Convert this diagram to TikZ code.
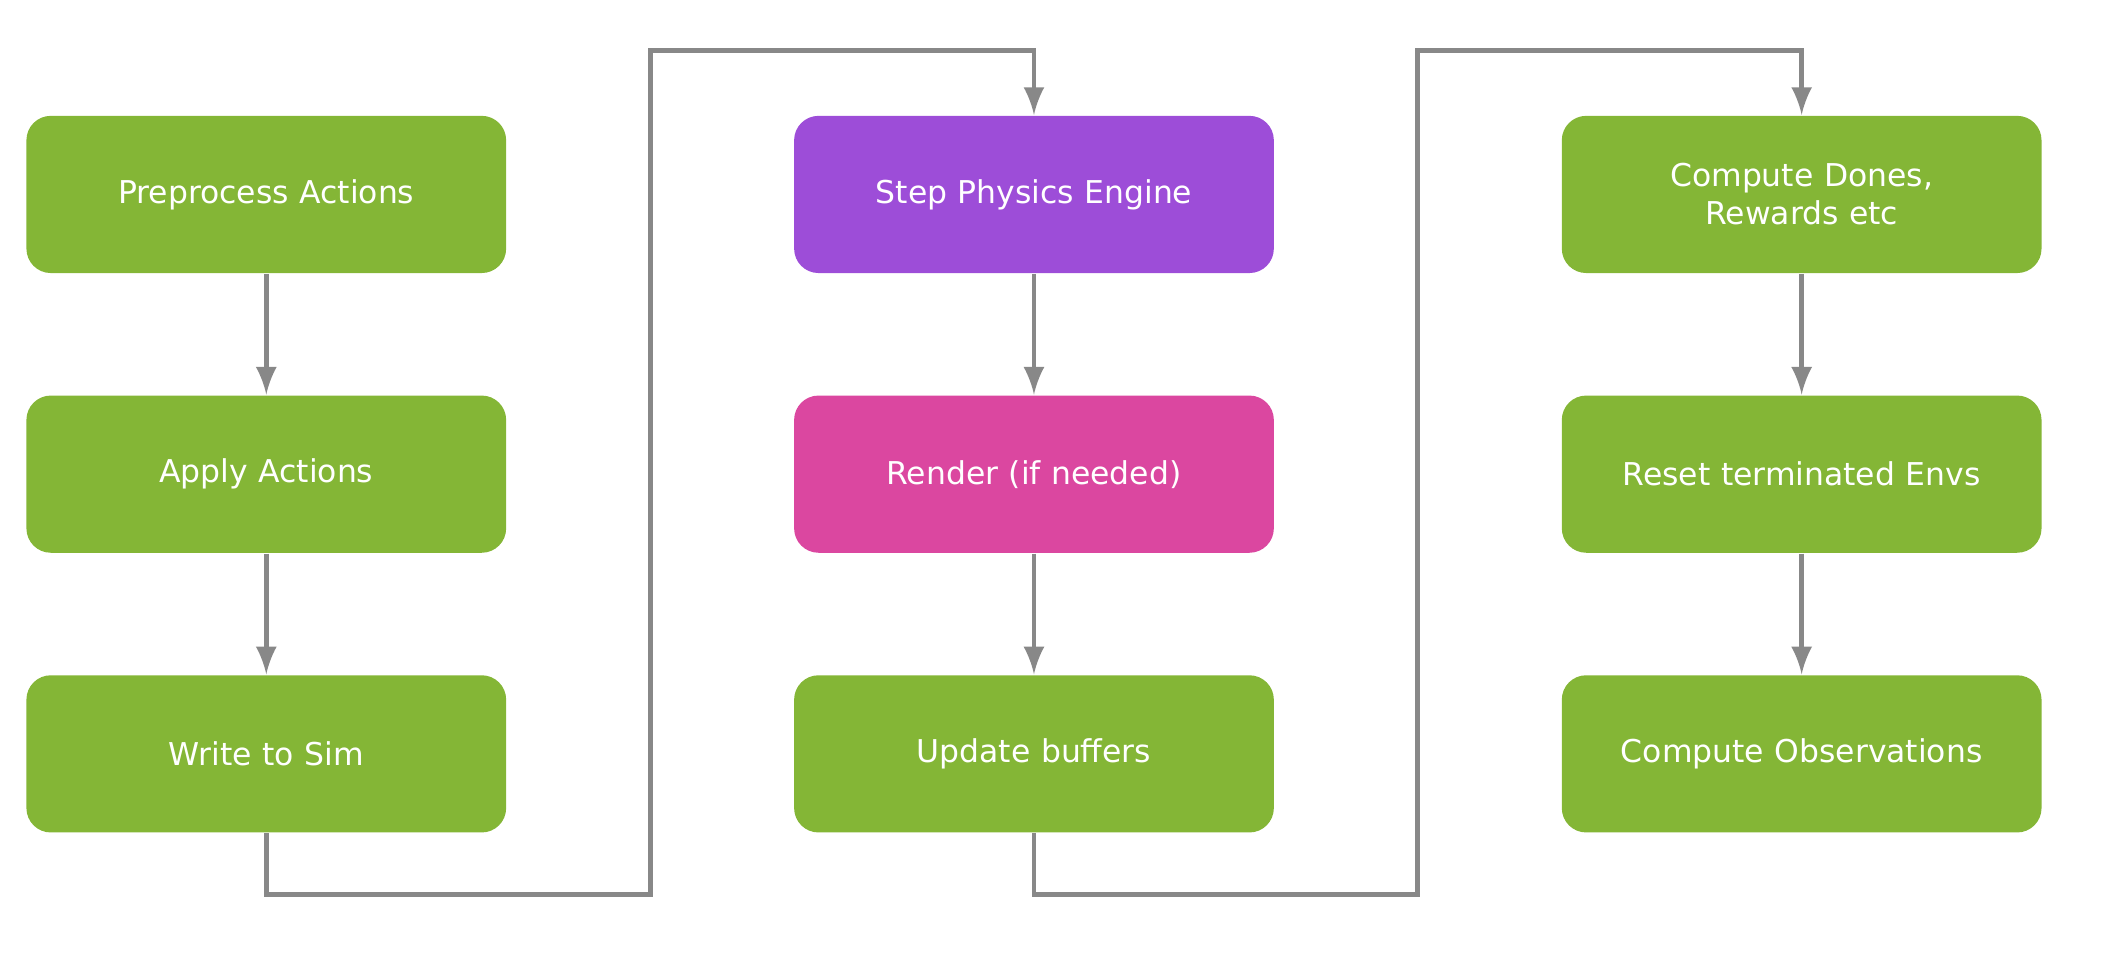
\documentclass[tikz,border=0pt]{standalone}
\usepackage{fontspec}
\setmainfont{DejaVu Sans}
\usetikzlibrary{positioning}
\definecolor{stepgreen}{HTML}{84B636}
\definecolor{steppurple}{HTML}{9D4DD8}
\definecolor{steppink}{HTML}{DB47A0}
\definecolor{flowgray}{HTML}{888888}
\begin{document}
\begin{tikzpicture}[>=latex,
  box/.style={rectangle, rounded corners=0.18cm, minimum width=3.54cm, minimum height=1.16cm,
    text width=3.3cm, align=center, text=white, fill=stepgreen,
    font=\fontsize{6.6}{8}\selectfont},
  flow/.style={draw=flowgray, line width=1pt, ->}]

% Bounding box of the whole page
\useasboundingbox (0,0) rectangle (15.6,-7.055);

% Left column
\node[box] (pre) at (1.965,-1.435) {Preprocess Actions};
\node[box, below=0.89cm of pre] (apply) {Apply Actions};
\node[box, below=0.89cm of apply] (write) {Write to Sim};

% Middle column
\node[box, fill=steppurple] (step) at (7.63,-1.435) {Step Physics Engine};
\node[box, fill=steppink, below=0.89cm of step] (render) {Render (if needed)};
\node[box, below=0.89cm of render] (update) {Update buffers};

% Right column
\node[box] (dones) at (13.295,-1.435) {Compute Dones, Rewards etc};
\node[box, below=0.89cm of dones] (reset) {Reset terminated Envs};
\node[box, below=0.89cm of reset] (obs) {Compute Observations};

% Vertical arrows
\draw[flow] (pre) -- (apply);
\draw[flow] (apply) -- (write);
\draw[flow] (step) -- (render);
\draw[flow] (render) -- (update);
\draw[flow] (dones) -- (reset);
\draw[flow] (reset) -- (obs);

% Links between columns
\draw[flow] (write.south) |- (4.8,-6.6) |- (7.63,-0.37) -- (step.north);
\draw[flow] (update.south) |- (10.46,-6.6) |- (13.295,-0.37) -- (dones.north);

\end{tikzpicture}
\end{document}
